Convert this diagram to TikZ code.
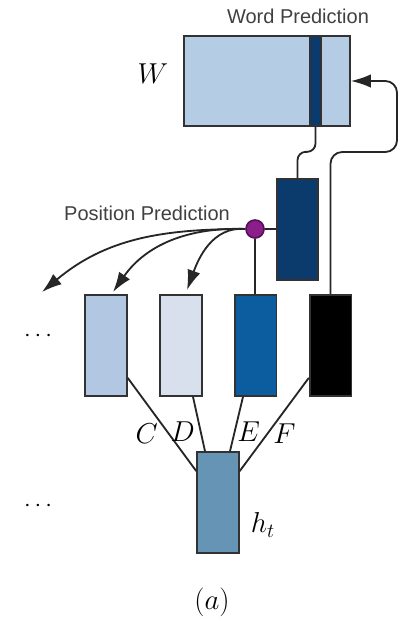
\documentclass[tikz,border=0pt]{standalone}
\usepackage{fontspec}
\setsansfont{Liberation Sans}
\usepackage{tikz}
\usetikzlibrary{arrows.meta,calc}

\definecolor{wblue}{RGB}{180,204,228}
\definecolor{navy}{RGB}{11,58,108}
\definecolor{cblue}{RGB}{178,200,226}
\definecolor{dblue}{RGB}{216,224,237}
\definecolor{eblue}{RGB}{12,92,160}
\definecolor{hblue}{RGB}{102,148,180}
\definecolor{plum}{RGB}{140,30,140}
\definecolor{edgegray}{RGB}{50,50,50}

\begin{document}
\begin{tikzpicture}[x=0.6pt, y=0.6pt, thick,
    box/.style={draw=edgegray, line width=1pt, inner sep=0pt,
      minimum width=25pt, minimum height=60.6pt},
    wire/.style={draw=black!85, line width=1.1pt},
    tip/.style={-{Latex[length=12pt,width=8pt]}},
    caption/.style={font=\sffamily\large, text=black!75},
    lab/.style={font=\LARGE, inner sep=3pt}]
  \useasboundingbox (0,0) rectangle (403,-622);

  % Word matrix with the selected column
  \node[box, fill=wblue, minimum width=99.6pt, minimum height=54pt] (W) at (267,-81) {};
  \node[box, fill=navy, minimum width=6.6pt, minimum height=54pt] (col) at (315.5,-81) {};
  \node[caption] (wp) at (298,-16) {Word Prediction};
  \node[lab] (wlab) at (153,-74) {$W$};

  % Hidden state feeding the word matrix
  \node[box, fill=navy, minimum width=24.6pt] (hid) at (297.5,-229.5) {};

  % Position output
  \node[circle, draw=plum!60!black, fill=plum, line width=1pt,
    minimum size=10.8pt, inner sep=0pt] (pos) at (255,-229) {};
  \node[caption] (pp) at (147,-213) {Position Prediction};

  % Candidate states
  \node[box, fill=cblue] (C) at (106,-345.5) {};
  \node[box, fill=dblue] (D) at (181,-345.5) {};
  \node[box, fill=eblue] (E) at (255.5,-345.5) {};
  \node[box, fill=black] (F) at (330.5,-345.5) {};
  \node[box, fill=hblue] (ht) at (218,-502.5) {};
  \node[lab] (htlab) at (263,-525) {$h_t$};

  \node[font=\Large] (dotsA) at (38,-336) {$\cdots$};
  \node[font=\Large] (dotsB) at (38,-506) {$\cdots$};
  \node[lab] (cap) at (212,-602) {$(a)$};

  % Links between the states
  \draw[wire] (pos.east) -- (pos.east -| hid.west);
  \draw[wire] (pos.south) -- (pos.south |- E.north);
  \draw[wire, rounded corners=5pt] (col.south) -- ++(0,-25) -| (hid.north);
  \draw[wire, tip, rounded corners=7pt] (F.north) |- (397,-152) |- (W.east);

  % Arrows of the position prediction
  \coordinate (farTip) at (42,-292);
  \coordinate (cTip) at (113,-292);
  \coordinate (dTip) at (187,-290);
  \draw[wire, tip] (pos.west) to[out=180,in=40] (farTip);
  \draw[wire, tip] (pos.west) to[out=178,in=55] (cTip);
  \draw[wire, tip] (pos.west) to[out=175,in=70] (dTip);

  % Edges into h_t
  \draw[wire] ([yshift=11.4pt]C.south east) --
    node[lab, pos=.6, left, xshift=-3pt] (lc) {$C$} ([yshift=-12pt]ht.north west);
  \draw[wire] ([xshift=7.2pt]D.south) --
    node[lab, pos=.64, left] (ld) {$D$} ([xshift=-7.8pt]ht.north);
  \draw[wire] ([xshift=-7.5pt]E.south) --
    node[lab, pos=.64, right, xshift=-2pt] (le) {$E$} ([xshift=7.2pt]ht.north);
  \draw[wire] ([yshift=11.4pt]F.south west) --
    node[lab, pos=.6, right] (lf) {$F$} ([yshift=-12pt]ht.north east);
\end{tikzpicture}
\end{document}
